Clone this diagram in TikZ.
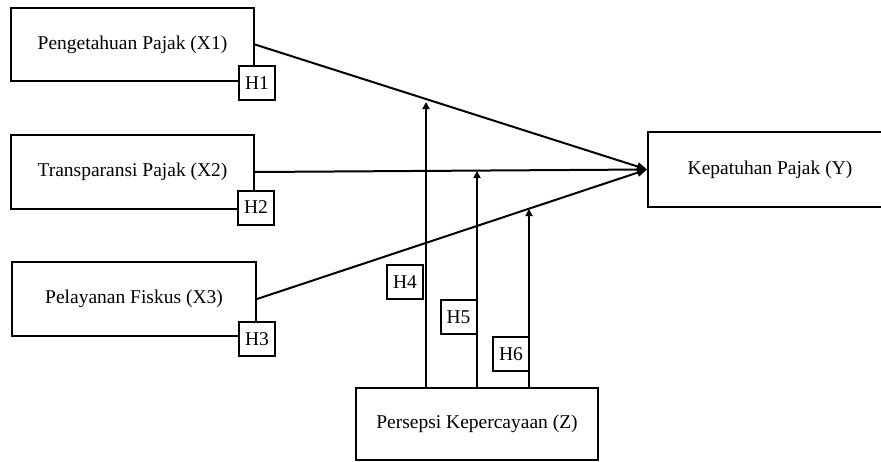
\documentclass[tikz,border=0pt]{standalone}
\usepackage{fontspec}
\setmainfont{Liberation Serif}
\usetikzlibrary{arrows.meta}
\begin{document}
\begin{tikzpicture}[x=1pt,y=-1pt,
  varbox/.style={draw, line width=2pt, fill=white, inner sep=0pt,
    font=\fontsize{19.5}{22}\selectfont},
  hbox/.style={draw, line width=2pt, fill=white, inner sep=0pt,
    minimum width=36pt, minimum height=34pt, font=\fontsize{19.5}{22}\selectfont},
  link/.style={line width=2pt, -{Triangle[length=10pt,width=8pt]}},
  mod/.style={line width=2pt, -{Triangle[length=7pt,width=7pt]}}]
\useasboundingbox (0,0) rectangle (881,461);
\clip (0,0) rectangle (881,461);
\node[varbox, minimum width=243pt, minimum height=73pt] (X1) at (132.5,44.5) {Pengetahuan Pajak (X1)};
\node[varbox, minimum width=243pt, minimum height=74pt] (X2) at (132.5,172) {Transparansi Pajak (X2)};
\node[varbox, minimum width=244pt, minimum height=74pt] (X3) at (134,299) {Pelayanan Fiskus (X3)};
\node[varbox, minimum width=244pt, minimum height=75pt] (Y) at (770,169.5) {Kepatuhan Pajak (Y)};
\node[varbox, minimum width=242pt, minimum height=72pt] (Z) at (477,424) {Persepsi Kepercayaan (Z)};
\draw[link] (X1.east) -- (Y.west);
\draw[link] (X2.east) -- (Y.west);
\draw[link] (X3.east) -- (Y.west);
\coordinate (t4) at (426,102);
\coordinate (t5) at (477,171);
\coordinate (t6) at (529,209);
\draw[mod] (Z.north -| t4) -- (t4);
\draw[mod] (Z.north -| t5) -- (t5);
\draw[mod] (Z.north -| t6) -- (t6);
\node[hbox] (H1) at (257,83) {H1};
\node[hbox] (H2) at (256,207.5) {H2};
\node[hbox] (H3) at (257,339) {H3};
\node[hbox] (H4) at (405,282) {H4};
\node[hbox] (H5) at (458.5,317) {H5};
\node[hbox] (H6) at (511,354) {H6};
\end{tikzpicture}
\end{document}
